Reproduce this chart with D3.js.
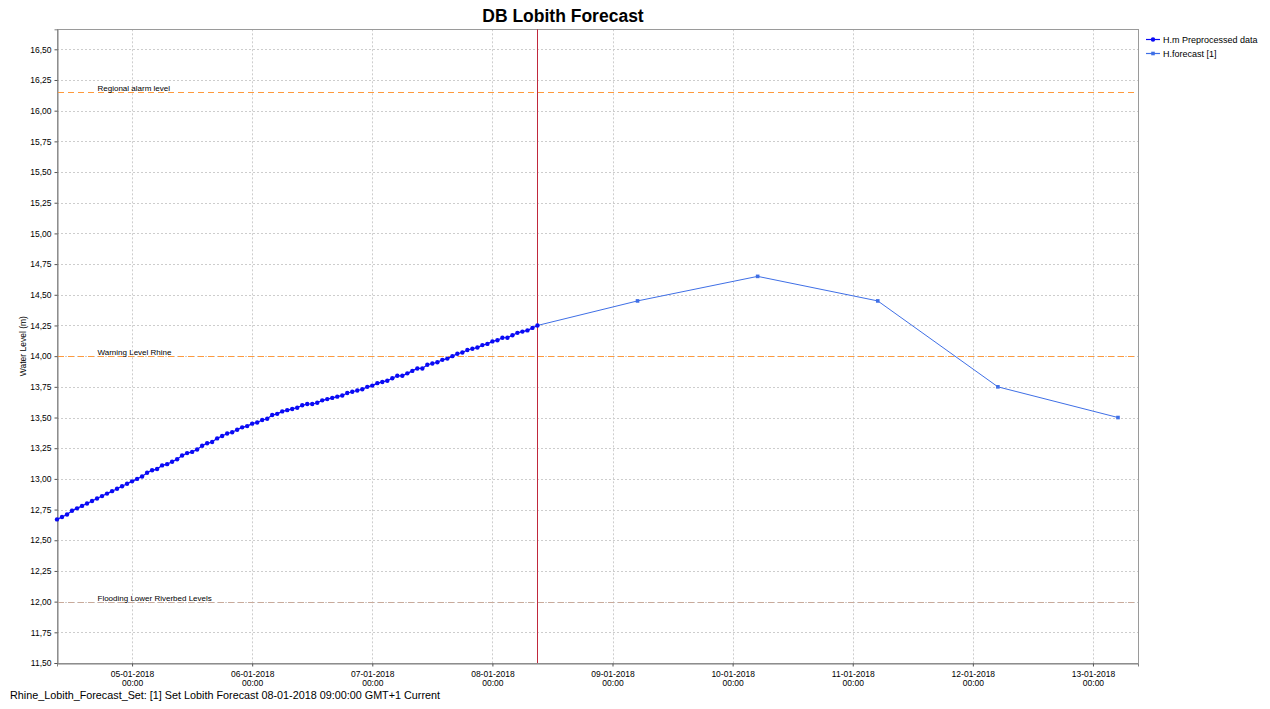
<!DOCTYPE html>
<html><head><meta charset="utf-8">
<script src="https://cdn.jsdelivr.net/npm/d3@7"></script>
<style>
body{margin:0;background:#fff}
svg{display:block}
text{font-family:"Liberation Sans",Arial,sans-serif;fill:#000}
</style>
</head><body>
<svg id="c" width="1270" height="709"></svg>
<script>
// ---------------- data ----------------
const chartTitle = "DB Lobith Forecast";
const yAxisLabel = "Water Level (m)";
const footerText = "Rhine_Lobith_Forecast_Set: [1] Set Lobith Forecast 08-01-2018 09:00:00 GMT+1 Current";
const seriesNames = ["H.m Preprocessed data", "H.forecast [1]"];

const observedStart = "2018-01-04 09:00";   // hourly series
const observedValues = [
  12.67, 12.69, 12.71, 12.74, 12.76, 12.78, 12.80, 12.82, 12.84, 12.86,
  12.88, 12.90, 12.92, 12.94, 12.96, 12.98, 13.00, 13.02, 13.05, 13.07,
  13.08, 13.11, 13.12, 13.14, 13.16, 13.19, 13.21, 13.22, 13.24, 13.27,
  13.29, 13.30, 13.33, 13.35, 13.37, 13.38, 13.40, 13.42, 13.43, 13.45,
  13.46, 13.48, 13.49, 13.52, 13.53, 13.55, 13.56, 13.57,
  13.58, 13.60, 13.61, 13.61, 13.62, 13.64, 13.65, 13.66, 13.67, 13.68,
  13.70, 13.71, 13.72, 13.73, 13.75, 13.76, 13.78, 13.79, 13.80, 13.82,
  13.84, 13.84, 13.86, 13.88, 13.90, 13.90, 13.93, 13.94, 13.95, 13.97,
  13.98, 14.00, 14.02, 14.03, 14.05, 14.06, 14.07, 14.09, 14.10, 14.12,
  14.13, 14.15, 14.15, 14.17, 14.19, 14.20, 14.21, 14.23, 14.25
];

const forecastTimes = ["2018-01-08 09:00", "2018-01-09 05:00", "2018-01-10 05:00",
                       "2018-01-11 05:00", "2018-01-12 05:00", "2018-01-13 05:00"];
const forecastValues = [14.25, 14.45, 14.65, 14.45, 13.75, 13.50];

const thresholdNames = ["Regional alarm level", "Warning Level Rhine", "Flooding Lower Riverbed Levels"];
const thresholdValues = [16.15, 14.00, 12.00];

const forecastT0 = "2018-01-08 09:00";
const timeDomain = ["2018-01-04 09:00", "2018-01-13 09:00"];
const valueDomain = [11.5, 16.663];

const xTickDates = ["2018-01-05 00:00", "2018-01-06 00:00", "2018-01-07 00:00", "2018-01-08 00:00",
                    "2018-01-09 00:00", "2018-01-10 00:00", "2018-01-11 00:00", "2018-01-12 00:00",
                    "2018-01-13 00:00"];
const yTickValues = [11.50, 11.75, 12.00, 12.25, 12.50, 12.75, 13.00, 13.25, 13.50, 13.75,
                     14.00, 14.25, 14.50, 14.75, 15.00, 15.25, 15.50, 15.75, 16.00, 16.25, 16.50];

// ---------------- drawing ----------------
const parse = d3.utcParse("%Y-%m-%d %H:%M");
const fmtDate = d3.utcFormat("%d-%m-%Y");
const fmtTime = d3.utcFormat("%H:%M");
const fmtVal = v => d3.format(".2f")(v).replace(".", ",");

const plot = {left: 57, right: 1138, top: 29.3, bottom: 663};

const x = d3.scaleUtc().domain(timeDomain.map(parse)).range([plot.left, plot.right]);
const y = d3.scaleLinear().domain(valueDomain).range([plot.bottom, plot.top]);

const svg = d3.select("#c");

const t0 = parse(observedStart);
const observed = observedValues.map((v, i) => ({t: d3.utcHour.offset(t0, i), v}));
const forecast = forecastTimes.map((t, i) => ({t: parse(t), v: forecastValues[i]}));

// grid
const grid = svg.append("g");
grid.selectAll("line.h").data(yTickValues).join("line")
  .attr("x1", plot.left).attr("x2", plot.right)
  .attr("y1", d => Math.round(y(d)) + 0.5).attr("y2", d => Math.round(y(d)) + 0.5)
  .attr("stroke", "#cdcdcd").attr("stroke-dasharray", "2,2").attr("stroke-width", 1);
grid.selectAll("line.v").data(xTickDates.map(parse)).join("line")
  .attr("y1", plot.top).attr("y2", plot.bottom)
  .attr("x1", d => Math.round(x(d)) + 0.5).attr("x2", d => Math.round(x(d)) + 0.5)
  .attr("stroke", "#cdcdcd").attr("stroke-dasharray", "2,2").attr("stroke-width", 1);

// plot border
svg.append("rect")
  .attr("x", plot.left + 0.5).attr("y", Math.round(plot.top) + 0.5)
  .attr("width", plot.right - plot.left).attr("height", plot.bottom - Math.round(plot.top))
  .attr("fill", "none").attr("stroke", "#9a9a9a");

// axes
const yAxis = d3.axisLeft(y).tickValues(yTickValues).tickFormat(fmtVal).tickSize(3).tickPadding(3);
const gy = svg.append("g").attr("transform", `translate(${plot.left + 0.5},0)`).call(yAxis);
gy.select(".domain").attr("stroke", "#808080");
gy.selectAll(".tick line").attr("stroke", "#555");
gy.selectAll(".tick text").attr("font-size", 8.5).attr("font-family", "Liberation Sans, Arial, sans-serif");

const xAxis = d3.axisBottom(x).tickValues(xTickDates.map(parse)).tickFormat("").tickSize(3);
const gx = svg.append("g").attr("transform", `translate(0,${plot.bottom + 0.5})`).call(xAxis);
gx.select(".domain").attr("stroke", "#808080");
gx.selectAll(".tick line").attr("stroke", "#555");
const xl = gx.selectAll(".tick").append("text")
  .attr("text-anchor", "middle").attr("font-size", 8.5).attr("fill", "#000");
xl.append("tspan").attr("x", 0).attr("y", 13.5).text(d => fmtDate(d));
xl.append("tspan").attr("x", 0).attr("y", 22.5).text(d => fmtTime(d));

// thresholds
const thr = svg.append("g");
thresholdValues.forEach((v, i) => {
  const yy = Math.round(y(v)) + 0.5;
  thr.append("line").attr("x1", plot.left + 1).attr("x2", plot.right)
    .attr("y1", yy).attr("y2", yy)
    .attr("stroke", i === 2 ? "#c9aa9a" : "#ff9a3c").attr("stroke-width", 1.2)
    .attr("stroke-dasharray", "6,4");
  thr.append("text").attr("x", 97.5).attr("y", yy - 2)
    .attr("font-size", 8).text(thresholdNames[i]);
});

// forecast T0 vertical line
svg.append("line")
  .attr("x1", Math.round(x(parse(forecastT0))) + 0.5).attr("x2", Math.round(x(parse(forecastT0))) + 0.5)
  .attr("y1", plot.top).attr("y2", plot.bottom)
  .attr("stroke", "#c0283c").attr("stroke-width", 1);

// forecast series
const line = d3.line().x(d => x(d.t)).y(d => y(d.v));
const fColor = "#3f6fe6";
svg.append("path").datum(forecast).attr("d", line)
  .attr("fill", "none").attr("stroke", fColor).attr("stroke-width", 1);
svg.append("g").selectAll("rect").data(forecast.slice(1)).join("rect")
  .attr("x", d => x(d.t) - 1.8).attr("y", d => y(d.v) - 1.8)
  .attr("width", 3.6).attr("height", 3.6).attr("fill", fColor);

// observed series
const oColor = "#0a0af5";
svg.append("path").datum(observed).attr("d", line)
  .attr("fill", "none").attr("stroke", oColor).attr("stroke-width", 1.2);
svg.append("g").selectAll("circle").data(observed).join("circle")
  .attr("cx", d => x(d.t)).attr("cy", d => y(d.v)).attr("r", 2.2).attr("fill", oColor);

// title
svg.append("text").attr("x", 563).attr("y", 22).attr("text-anchor", "middle")
  .attr("font-size", 17.5).attr("font-weight", "bold").text(chartTitle);

// y label
svg.append("text").attr("transform", `translate(26,${(plot.top + plot.bottom) / 2}) rotate(-90)`)
  .attr("text-anchor", "middle").attr("font-size", 8.5).text(yAxisLabel);

// legend
const legend = svg.append("g");
const legColors = [oColor, fColor];
seriesNames.forEach((n, i) => {
  const ly = 39 + i * 14;
  legend.append("line").attr("x1", 1146).attr("x2", 1160).attr("y1", ly + 0.5).attr("y2", ly + 0.5)
    .attr("stroke", legColors[i]).attr("stroke-width", 1.2);
  if (i === 0) legend.append("circle").attr("cx", 1153).attr("cy", ly + 0.5).attr("r", 2.2).attr("fill", legColors[i]);
  else legend.append("rect").attr("x", 1151.2).attr("y", ly - 1.3).attr("width", 3.6).attr("height", 3.6).attr("fill", legColors[i]);
  legend.append("text").attr("x", 1163).attr("y", ly + 3.5).attr("font-size", 9).text(n);
});

// footer
svg.append("text").attr("x", 10).attr("y", 699).attr("font-size", 10.8)
  .attr("fill", "#111").text(footerText);
</script>
</body></html>
